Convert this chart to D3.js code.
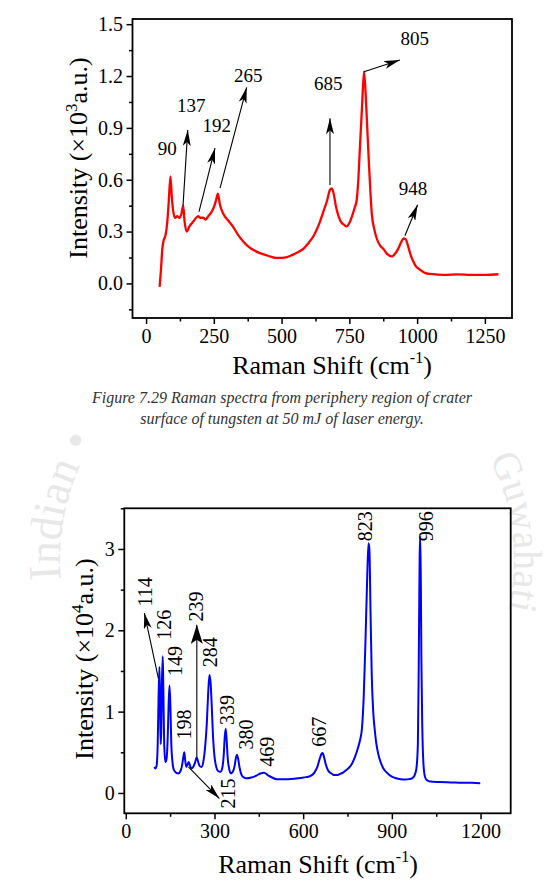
<!DOCTYPE html>
<html>
<head>
<meta charset="utf-8">
<script src="https://cdn.jsdelivr.net/npm/d3@7"></script>
<style>
    body { margin: 0; background: #fff; }
    svg text { font-family: "Liberation Serif", "Times New Roman", serif; }
</style>
</head>
<body>
<svg id="page" width="558" height="889"></svg>
<script>

// ---- top spectrum (periphery, 50 mJ) ----
const redShift = [50, 55, 60, 65, 72, 78, 84, 90, 95, 100, 107, 115, 122, 130, 137, 142, 150, 160, 170, 180,
    192, 200, 210, 220, 230, 240, 250, 258, 265, 272, 280, 290, 300, 320, 340, 360, 380, 400, 420, 440,
    460, 480, 500, 520, 540, 560, 580, 600, 620, 640, 655, 668, 678, 685, 692, 700, 710, 722, 730, 740,
    750, 760, 770, 777, 783, 790, 797, 804, 810, 816, 822, 828, 833, 841, 851, 863, 875, 890, 906, 920,
    930, 940, 950, 958, 966, 975, 985, 995, 1010, 1030, 1050, 1100, 1150, 1200, 1250, 1300];
const redIntensity = [-0.02, 0.08, 0.2, 0.25, 0.28, 0.35, 0.48, 0.62, 0.5, 0.42, 0.38, 0.39, 0.38, 0.4, 0.45, 0.36, 0.3, 0.33, 0.35, 0.37,
    0.39, 0.38, 0.38, 0.37, 0.39, 0.41, 0.44, 0.48, 0.52, 0.46, 0.42, 0.39, 0.37, 0.33, 0.28, 0.24, 0.21, 0.19, 0.175, 0.165,
    0.155, 0.148, 0.148, 0.152, 0.165, 0.18, 0.2, 0.235, 0.28, 0.35, 0.42, 0.48, 0.54, 0.55, 0.52, 0.45, 0.39, 0.35, 0.34, 0.33,
    0.35, 0.39, 0.44, 0.48, 0.6, 0.82, 1.03, 1.225, 1.1, 0.9, 0.7, 0.52, 0.4, 0.32, 0.26, 0.22, 0.2, 0.17, 0.156, 0.175,
    0.2, 0.235, 0.26, 0.255, 0.22, 0.17, 0.13, 0.1, 0.08, 0.06, 0.055, 0.05, 0.052, 0.05, 0.05, 0.053];

// ---- bottom spectrum ----
const blueShift = [97, 100, 104, 108, 111, 114, 116, 118, 120, 122, 125, 127, 130, 134, 138, 142, 145, 148, 151, 154,
    158, 163, 170, 178, 185, 190, 195, 198, 201, 205, 209, 213, 217, 222, 228, 234, 240, 245, 250, 256,
    262, 268, 274, 279, 283, 287, 291, 295, 300, 306, 312, 320, 326, 331, 335, 338, 341, 345, 350, 356,
    362, 368, 373, 376, 380, 385, 392, 400, 410, 425, 440, 455, 468, 480, 495, 510, 530, 550, 570, 590,
    610, 625, 638, 648, 656, 662, 666, 670, 676, 684, 695, 705, 715, 725, 735, 745, 755, 765, 775, 785,
    793, 799, 805, 811, 817, 821, 824, 828, 832, 837, 842, 847, 854, 861, 870, 883, 900, 915, 930, 945,
    958, 968, 976, 983, 988, 991, 994, 996, 998, 1000, 1003, 1007, 1012, 1018, 1030, 1060, 1100, 1140, 1170, 1199];
const blueIntensity = [0.32, 0.3, 0.33, 0.6, 1.2, 1.55, 1.1, 0.6, 0.75, 1.3, 1.68, 1.3, 0.6, 0.38, 0.42, 0.7, 1.1, 1.32, 1.05, 0.6,
    0.38, 0.28, 0.25, 0.24, 0.27, 0.33, 0.45, 0.5, 0.4, 0.32, 0.35, 0.38, 0.34, 0.3, 0.32, 0.37, 0.44, 0.38, 0.33, 0.32,
    0.38, 0.55, 0.85, 1.25, 1.45, 1.35, 1.05, 0.7, 0.45, 0.32, 0.27, 0.26, 0.3, 0.45, 0.7, 0.79, 0.66, 0.42, 0.29, 0.24,
    0.26, 0.33, 0.44, 0.47, 0.42, 0.31, 0.22, 0.19, 0.18, 0.19, 0.21, 0.24, 0.25, 0.22, 0.19, 0.17, 0.17, 0.17, 0.175, 0.185,
    0.195, 0.21, 0.25, 0.32, 0.42, 0.48, 0.49, 0.45, 0.36, 0.28, 0.24, 0.22, 0.22, 0.235, 0.25, 0.28, 0.31, 0.36, 0.44, 0.55,
    0.66, 0.8, 1.2, 1.9, 2.7, 3.07, 3.0, 2.2, 1.45, 1.0, 0.78, 0.62, 0.48, 0.39, 0.31, 0.25, 0.2, 0.18, 0.17, 0.165,
    0.17, 0.18, 0.21, 0.3, 0.6, 1.6, 2.9, 3.16, 2.6, 1.6, 0.8, 0.35, 0.2, 0.16, 0.14, 0.135, 0.13, 0.125, 0.125, 0.12];

// ticks
const redXTicks = [0, 250, 500, 750, 1000, 1250];
const redXMinor = [125, 375, 625, 875, 1125];
const redYTicks = [0, 0.3, 0.6, 0.9, 1.2, 1.5];
const redYMinor = [-0.15, 0.15, 0.45, 0.75, 1.05, 1.35];
const blueXTicks = [0, 300, 600, 900, 1200];
const blueXMinor = [150, 450, 750, 1050];
const blueYTicks = [0, 1, 2, 3];
const blueYMinor = [0.5, 1.5, 2.5, 3.5];

// peak annotations, top chart (data units)
const redPeakNames = ["90", "137", "192", "265", "685", "805", "948"];
const redLabelAt = [[78, 0.744], [166.7, 0.994], [260.7, 0.879], [376.8, 1.168], [672, 1.12], [990.8, 1.38], [985.2, 0.513]];
const redArrowFrom = [null, [136.4, 0.449], [195.5, 0.416], [272.9, 0.551], [678.5, 0.57], [803.8, 1.225], [955, 0.276]];
const redArrowTo = [null, [153.8, 0.888], [254.4, 0.783], [371.3, 1.135], [678.5, 0.956], [936.6, 1.293], [1001.8, 0.455]];

// peak annotations, bottom chart (rotated labels)
const bluePeakNames = ["114", "126", "149", "198", "215", "239", "284", "339", "380", "469", "667", "823", "996"];
const blueLabelAt = [[65.3, 2.293], [128.6, 1.883], [166.8, 1.439], [197.3, 0.658], [344.5, -0.192], [238.9, 2.108],
    [286.3, 1.546], [342.8, 0.835], [405.4, 0.535], [478.2, 0.321], [654.8, 0.567], [808.1, 3.095], [1015.6, 3.095]];
const blueArrowFrom = [[110.3, 1.41], null, null, null, [211.8, 0.321], [240.3, 0.444], null, null, null, null, null, null, null];
const blueArrowTo = [[62.9, 2.212], null, null, null, [316.8, -0.069], [240.3, 2.068], null, null, null, null, null, null, null];

/** Class drawing one Raman spectrum panel. */
class SpectrumPlot {

    constructor(svg, cfg) {
        this.cfg = cfg;
        this.g = svg.append("g");
        this.x = d3.scaleLinear().domain(cfg.xDomain).range([cfg.left, cfg.right]);
        this.y = d3.scaleLinear().domain(cfg.yDomain).range([cfg.bottom, cfg.top]);

        this.drawAxes();
        this.drawLine();
        this.drawFrame();
        this.drawPeaks();
        this.drawTitles();
    }

    drawAxes() {
        let c = this.cfg, g = this.g;
        let bottomG = g.append("g").attr("transform", `translate(0,${c.bottom})`);
        bottomG.append("g").call(d3.axisBottom(this.x).tickValues(c.xTicks).tickSize(6).tickPadding(5)
            .tickFormat(d3.format("d")).tickSizeOuter(0));
        bottomG.append("g").call(d3.axisBottom(this.x).tickValues(c.xMinor).tickSize(3.5).tickFormat("").tickSizeOuter(0));

        let leftG = g.append("g").attr("transform", `translate(${c.left},0)`);
        leftG.append("g").call(d3.axisLeft(this.y).tickValues(c.yTicks).tickSize(6).tickPadding(3.5)
            .tickFormat(c.yFormat).tickSizeOuter(0));
        leftG.append("g").call(d3.axisLeft(this.y).tickValues(c.yMinor).tickSize(3.5).tickFormat("").tickSizeOuter(0));

        g.selectAll(".domain").remove();
        g.selectAll(".tick line").attr("stroke", "#000").attr("stroke-width", 1.5);
        g.selectAll("g").attr("font-family", null).attr("font-size", null);
        g.selectAll(".tick text").attr("font-size", 20).attr("fill", "#000");
    }

    drawLine() {
        let that = this;
        let data = d3.zip(this.cfg.shift, this.cfg.intensity);
        let line = d3.line()
            .curve(d3.curveMonotoneX)
            .x(function(d) { return that.x(d[0]); })
            .y(function(d) { return that.y(d[1]); });
        this.g.append("path")
            .datum(data)
            .attr("d", line)
            .attr("fill", "none")
            .attr("stroke", this.cfg.colour)
            .attr("stroke-width", this.cfg.lineWidth)
            .attr("stroke-linejoin", "round");
    }

    drawFrame() {
        let c = this.cfg;
        this.g.append("rect")
            .attr("x", c.left).attr("y", c.top)
            .attr("width", c.right - c.left).attr("height", c.bottom - c.top)
            .attr("fill", "none").attr("stroke", "#000").attr("stroke-width", 1.8);
    }

    drawPeaks() {
        let c = this.cfg, x = this.x, y = this.y, g = this.g;
        c.names.forEach(function(name, i) {
            if (c.from[i]) {
                g.append("line")
                    .attr("x1", x(c.from[i][0])).attr("y1", y(c.from[i][1]))
                    .attr("x2", x(c.to[i][0])).attr("y2", y(c.to[i][1]))
                    .attr("stroke", "#000").attr("stroke-width", 1.1)
                    .attr("marker-end", name === c.bigArrow ? "url(#headBig)" : "url(#head)");
            }
            let t = g.append("text").attr("font-size", c.labelSize).attr("fill", "#000").text(name);
            if (c.rotated) {
                t.attr("transform", `translate(${x(c.labelAt[i][0])},${y(c.labelAt[i][1])}) rotate(-90)`)
                    .attr("dominant-baseline", "central");
            } else {
                t.attr("x", x(c.labelAt[i][0])).attr("y", y(c.labelAt[i][1])).attr("text-anchor", "middle");
            }
        });
    }

    drawTitles() {
        let c = this.cfg;
        // y title with superscript power
        let yt = this.g.append("text")
            .attr("transform", `translate(${c.yTitleX},${c.yTitleY}) rotate(-90)`)
            .attr("text-anchor", "middle").attr("font-size", 26).attr("fill", "#000");
        yt.append("tspan").text("Intensity (\u00d710");
        yt.append("tspan").attr("dy", -10).attr("font-size", 17).text(c.yPower);
        yt.append("tspan").attr("dy", 10).text("a.u.)");

        // x title
        let xt = this.g.append("text")
            .attr("x", c.xTitleX).attr("y", c.xTitleY)
            .attr("text-anchor", "middle").attr("font-size", 26).attr("fill", "#000");
        xt.append("tspan").text("Raman Shift (cm");
        xt.append("tspan").attr("dy", -11).attr("font-size", 16).text("-1");
        xt.append("tspan").attr("dy", 11).text(")");
    }
}

let svg = d3.select("#page");
let defs = svg.append("defs");

// arrow heads
defs.append("marker").attr("id", "head")
    .attr("markerUnits", "userSpaceOnUse").attr("markerWidth", 16).attr("markerHeight", 8)
    .attr("refX", 16).attr("refY", 4).attr("orient", "auto")
    .append("path").attr("d", "M0,0 L16,4 L0,8 L4,4 Z").attr("fill", "#000");
defs.append("marker").attr("id", "headBig")
    .attr("markerUnits", "userSpaceOnUse").attr("markerWidth", 19).attr("markerHeight", 12)
    .attr("refX", 19).attr("refY", 6).attr("orient", "auto")
    .append("path").attr("d", "M0,0 L19,6 L0,12 L4,6 Z").attr("fill", "#000");

// faint watermark ring behind everything
defs.append("path").attr("id", "ring")
    .attr("d", "M292,792 A232,232 0 1 1 292,328 A232,232 0 1 1 292,792");
defs.append("path").attr("id", "ringInner")
    .attr("d", "M292,782 A222,222 0 1 1 292,338 A222,222 0 1 1 292,782");
let wm = svg.append("g").attr("fill", "#e8e8e8");
wm.append("text").attr("font-size", 46)
    .append("textPath").attr("href", "#ring").attr("startOffset", 417).attr("text-anchor", "middle").text("Indian \u2022");
wm.append("text").attr("font-size", 40)
    .append("textPath").attr("href", "#ringInner").attr("startOffset", 1018).attr("text-anchor", "middle").text("Guwahati");

new SpectrumPlot(svg, {
    shift: redShift, intensity: redIntensity, colour: "#ff0000", lineWidth: 2.3,
    left: 132.5, right: 512, top: 19, bottom: 318,
    xDomain: [-50, 1350], yDomain: [-0.2, 1.53],
    xTicks: redXTicks, xMinor: redXMinor, yTicks: redYTicks, yMinor: redYMinor,
    yFormat: d3.format(".1f"), yPower: "3",
    names: redPeakNames, labelAt: redLabelAt, from: redArrowFrom, to: redArrowTo,
    rotated: false, labelSize: 19, bigArrow: null,
    yTitleX: 87, yTitleY: 158, xTitleX: 332, xTitleY: 374
});

new SpectrumPlot(svg, {
    shift: blueShift, intensity: blueIntensity, colour: "#0000ff", lineWidth: 2,
    left: 124.3, right: 510.7, top: 508.3, bottom: 813.3,
    xDomain: [-5, 1302], yDomain: [-0.25, 3.5],
    xTicks: blueXTicks, xMinor: blueXMinor, yTicks: blueYTicks, yMinor: blueYMinor,
    yFormat: d3.format("d"), yPower: "4",
    names: bluePeakNames, labelAt: blueLabelAt, from: blueArrowFrom, to: blueArrowTo,
    rotated: true, labelSize: 20, bigArrow: "239",
    yTitleX: 93, yTitleY: 659, xTitleX: 318, xTitleY: 873
});

// caption of the upper figure
let cap = svg.append("g").attr("font-style", "italic").attr("font-size", 16).attr("fill", "#333").attr("text-anchor", "middle");
cap.append("text").attr("x", 282).attr("y", 403).text("Figure 7.29 Raman spectra from periphery region of crater");
cap.append("text").attr("x", 282).attr("y", 424).text("surface of tungsten at 50 mJ of laser energy.");

</script>
</body>
</html>
